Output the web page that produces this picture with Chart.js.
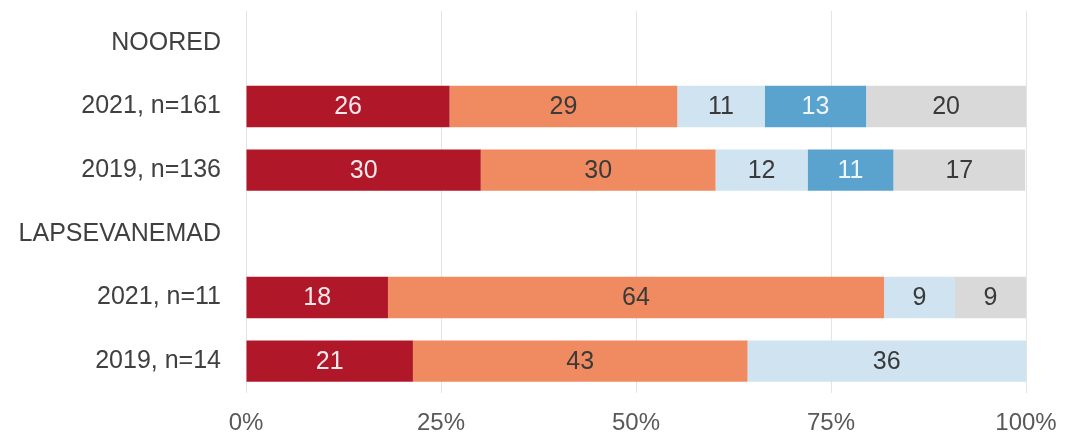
<!DOCTYPE html>
<html>
<head>
<meta charset="utf-8">
<script src="https://cdn.jsdelivr.net/npm/chart.js@4"></script>
<style>
html,body{margin:0;padding:0;background:#fff;}
#wrap{width:1069px;height:435px;position:relative;}
</style>
</head>
<body>
<div id="wrap"><canvas id="c" width="1069" height="435"></canvas></div>
<script>
const categories = ['NOORED', '2021, n=161', '2019, n=136', 'LAPSEVANEMAD', '2021, n=11', '2019, n=14'];
const seriesNames = ['1', '2', '3', '4', '5'];
const values1 = [null, 26.1, 30.1, null, 18.2, 21.4];
const values2 = [null, 29.2, 30.1, null, 63.6, 42.9];
const values3 = [null, 11.2, 11.8, null, 9.1, 35.7];
const values4 = [null, 13.0, 11.0, null, null, null];
const values5 = [null, 20.5, 16.9, null, 9.1, null];
const printed1 = [null, 26, 30, null, 18, 21];
const printed2 = [null, 29, 30, null, 64, 43];
const printed3 = [null, 11, 12, null, 9, 36];
const printed4 = [null, 13, 11, null, null, null];
const printed5 = [null, 20, 17, null, 9, null];
const xTicks = [0, 25, 50, 75, 100];

const colors = ['#b0182a', '#f08a60', '#d0e3f0', '#5ba3cf', '#d9d9d9'];
const textColors = ['#f7eaec', '#3a3a3a', '#3a3a3a', '#eef5fa', '#3a3a3a'];
const allValues = [values1, values2, values3, values4, values5];
const allPrinted = [printed1, printed2, printed3, printed4, printed5];

const FONT = "'Liberation Sans', Arial, sans-serif";

const valueLabels = {
  id: 'valueLabels',
  afterDatasetsDraw(chart) {
    const ctx = chart.ctx;
    ctx.save();
    ctx.font = '25px ' + FONT;
    ctx.textAlign = 'center';
    ctx.textBaseline = 'middle';
    chart.data.datasets.forEach((ds, di) => {
      const meta = chart.getDatasetMeta(di);
      meta.data.forEach((el, i) => {
        const p = ds.printed[i];
        if (p === null || p === undefined) return;
        const props = el.getProps(['x', 'y', 'base'], true);
        ctx.fillStyle = textColors[di];
        ctx.fillText(String(p), (props.x + props.base) / 2, props.y + 1);
      });
    });
    ctx.restore();
  }
};

new Chart(document.getElementById('c'), {
  type: 'bar',
  data: {
    labels: categories,
    datasets: seriesNames.map((n, k) => ({
      label: n,
      data: allValues[k],
      printed: allPrinted[k],
      backgroundColor: colors[k],
      borderWidth: 0,
      barPercentage: 0.65,
      categoryPercentage: 1.0
    }))
  },
  options: {
    indexAxis: 'y',
    responsive: false,
    animation: false,
    layout: { padding: { top: 11, right: 43, bottom: 1, left: 0 } },
    plugins: { legend: { display: false }, tooltip: { enabled: false } },
    scales: {
      x: {
        stacked: true,
        min: 0, max: 100,
        afterBuildTicks(scale) { scale.ticks = xTicks.map(v => ({ value: v })); },
        grid: { color: '#e4e4e4', lineWidth: 1, drawTicks: true, tickLength: 20, tickColor: 'rgba(0,0,0,0)' },
        border: { display: false },
        ticks: {
          padding: 0,
          color: '#595959',
          font: { family: FONT, size: 24, lineHeight: 0.875 },
          callback: v => v + '%'
        }
      },
      y: {
        stacked: true,
        afterFit(scale) { scale.width = 246; scale.paddingTop = 0; scale.paddingBottom = 0; },
        grid: { display: false, drawTicks: false },
        border: { display: false },
        ticks: {
          padding: 25,
          color: '#404040',
          font: { family: FONT, size: 25 }
        }
      }
    }
  },
  plugins: [valueLabels]
});
</script>
</body>
</html>
